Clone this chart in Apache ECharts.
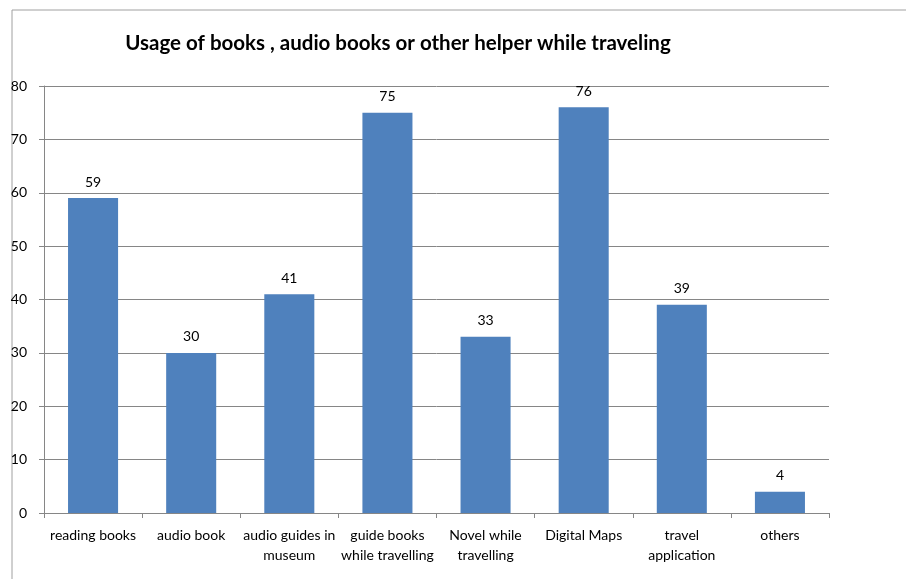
<!DOCTYPE html>
<html>
<head>
<meta charset="utf-8">
<script src="https://cdn.jsdelivr.net/npm/echarts@6/dist/echarts.min.js"></script>
<style>
  html, body { margin: 0; padding: 0; background: #fff; }
  #root { width: 906px; height: 579px; }
</style>
</head>
<body>
<div id="root"></div>
<script>
var categories = ['reading books', 'audio book', 'audio guides in\nmuseum', 'guide books\nwhile travelling',
  'Novel while\ntravelling', 'Digital Maps', 'travel\napplication', 'others']
var usage = [59, 30, 41, 75, 33, 76, 39, 4]
var yTicks = [0, 10, 20, 30, 40, 50, 60, 70, 80]

var chart = echarts.init(document.getElementById('root'))
var font = 'Lato, "Open Sans", sans-serif'

var option = {
  animation: false,
  backgroundColor: '#fff',
  title: {
    text: 'Usage of books , audio books or other helper while traveling',
    left: 393,
    top: 28,
    textAlign: 'center',
    textStyle: { fontFamily: font, fontSize: 20.5, fontWeight: 'bold', color: '#000' }
  },
  graphic: [
    { type: 'line', shape: { x1: 12, y1: 10, x2: 906, y2: 10 }, style: { stroke: '#a0a0a0', lineWidth: 1 } },
    { type: 'line', shape: { x1: 12, y1: 10, x2: 12, y2: 579 }, style: { stroke: '#a0a0a0', lineWidth: 1 } }
  ],
  grid: { left: 44, right: 77, top: 86, bottom: 66 },
  xAxis: {
    type: 'category',
    data: categories,
    axisLine: { lineStyle: { color: '#868686' } },
    axisTick: { show: true, length: 5, lineStyle: { color: '#868686' } },
    axisLabel: { fontFamily: font, fontSize: 14, color: '#000', margin: 12, lineHeight: 20, interval: 0 }
  },
  yAxis: {
    type: 'value',
    min: yTicks[0],
    max: yTicks[yTicks.length - 1],
    interval: 10,
    axisLine: { show: true, lineStyle: { color: '#868686' } },
    axisTick: { show: true, length: 5, lineStyle: { color: '#868686' } },
    axisLabel: { fontFamily: font, fontSize: 14, color: '#000', margin: 17 },
    splitLine: { lineStyle: { color: '#868686', width: 1 } }
  },
  series: [{
    type: 'bar',
    data: usage,
    barWidth: '51%',
    itemStyle: { color: '#4F81BD' },
    label: { show: true, position: 'top', distance: 9, fontFamily: font, fontSize: 14, color: '#000' }
  }]
}

chart.setOption(option)
</script>
</body>
</html>
